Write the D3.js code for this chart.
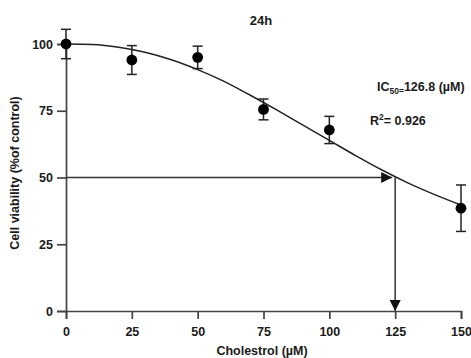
<!DOCTYPE html>
<html>
<head>
<meta charset="utf-8">
<script src="https://cdn.jsdelivr.net/npm/d3@7"></script>
<style>
  body { margin: 0; background: #fff; }
  svg { display: block; font-family: "Liberation Sans", Arial, sans-serif; font-weight: bold; }
</style>
</head>
<body>
<svg id="chart" width="471" height="358"></svg>
<script>
// measured points (mean, sd)
const doses = [0, 25, 50, 75, 100, 150];
const viability = [100, 94, 95, 75.5, 67.8, 38.5];
const sd = [5.5, 5.4, 4.2, 3.9, 5.1, 8.7];

// fitted curve
const curveX = [0, 10, 20, 30, 40, 50, 60, 70, 80, 90, 100, 110, 120, 130, 140, 150];
const curveY = [100, 99.8, 98.8, 96.9, 94.1, 90.4, 86, 80.8, 75.3, 69.6, 63.9, 58.2, 52.8, 47.9, 43.6, 39.7];

const xTicks = [0, 25, 50, 75, 100, 125, 150];
const yTicks = [0, 25, 50, 75, 100];
const ic50Dose = 125;
const halfLevel = 50;

const svg = d3.select('#chart');
const axisColor = '#444';
const textColor = '#1a1a1a';

const x = d3.scaleLinear().domain([0, 150]).range([66, 461]);
const y = d3.scaleLinear().domain([0, 100]).range([311, 44]);

// axes
const xAxis = svg.append('g')
  .attr('transform', `translate(0,${y(0)})`)
  .call(d3.axisBottom(x).tickValues(xTicks).tickSizeOuter(0).tickSize(8).tickPadding(8));
const yAxis = svg.append('g')
  .attr('transform', `translate(${x(0)},0)`)
  .call(d3.axisLeft(y).tickValues(yTicks).tickSizeOuter(0).tickSize(9).tickPadding(4));

[xAxis, yAxis].forEach(a => {
  a.select('.domain').attr('stroke', axisColor).attr('stroke-width', 1.7);
  a.selectAll('.tick line').attr('stroke', axisColor).attr('stroke-width', 1.7);
  a.selectAll('.tick text')
    .attr('fill', textColor)
    .attr('font-size', 12.5)
    .attr('font-weight', 'bold')
    .attr('font-family', '"Liberation Sans", Arial, sans-serif');
});

// arrow markers
svg.append('defs').append('marker')
  .attr('id', 'head')
  .attr('viewBox', '0 0 10 10')
  .attr('refX', 10).attr('refY', 5)
  .attr('markerWidth', 14).attr('markerHeight', 11)
  .attr('markerUnits', 'userSpaceOnUse')
  .attr('orient', 'auto')
  .append('path')
  .attr('d', 'M0,0L10,5L0,10Z')
  .attr('fill', '#111');

svg.append('line')
  .attr('x1', x(0)).attr('x2', x(ic50Dose) - 3)
  .attr('y1', y(halfLevel)).attr('y2', y(halfLevel))
  .attr('stroke', '#333').attr('stroke-width', 1.5)
  .attr('marker-end', 'url(#head)');
svg.append('line')
  .attr('x1', x(ic50Dose)).attr('x2', x(ic50Dose))
  .attr('y1', y(halfLevel)).attr('y2', y(0))
  .attr('stroke', '#333').attr('stroke-width', 1.5)
  .attr('marker-end', 'url(#head)');

// fitted curve
const line = d3.line()
  .x((d, i) => x(curveX[i]))
  .y(d => y(d))
  .curve(d3.curveMonotoneX);
svg.append('path')
  .attr('d', line(curveY))
  .attr('fill', 'none')
  .attr('stroke', '#222')
  .attr('stroke-width', 1.5);

// error bars
const bars = svg.append('g')
  .attr('stroke', '#222')
  .attr('stroke-width', 1.5);
doses.forEach((d, i) => {
  const cx = x(d);
  const top = y(viability[i] + sd[i]);
  const bot = y(viability[i] - sd[i]);
  bars.append('line').attr('x1', cx).attr('x2', cx).attr('y1', top).attr('y2', bot);
  bars.append('line').attr('x1', cx - 5).attr('x2', cx + 5).attr('y1', top).attr('y2', top);
  bars.append('line').attr('x1', cx - 5).attr('x2', cx + 5).attr('y1', bot).attr('y2', bot);
});

// points
svg.append('g')
  .selectAll('circle')
  .data(doses)
  .join('circle')
  .attr('cx', d => x(d))
  .attr('cy', (d, i) => y(viability[i]))
  .attr('r', 5.4)
  .attr('fill', '#000');

// texts
svg.append('text')
  .attr('x', 261).attr('y', 25)
  .attr('text-anchor', 'middle')
  .attr('font-size', 13)
  .attr('fill', textColor)
  .text('24h');

const ic = svg.append('text')
  .attr('x', 377).attr('y', 91)
  .attr('font-size', 12.5)
  .attr('fill', textColor);
ic.append('tspan').text('IC');
ic.append('tspan').attr('font-size', 8.5).attr('dy', 3).text('50=');
ic.append('tspan').attr('dy', -3).text('126.8 (µM)');

const r2 = svg.append('text')
  .attr('x', 370).attr('y', 125)
  .attr('font-size', 12.5)
  .attr('fill', textColor);
r2.append('tspan').text('R');
r2.append('tspan').attr('font-size', 8.5).attr('dy', -5).text('2');
r2.append('tspan').attr('dy', 5).text('= 0.926');

svg.append('text')
  .attr('x', 262).attr('y', 355)
  .attr('text-anchor', 'middle')
  .attr('font-size', 12.5)
  .attr('fill', textColor)
  .text('Cholestrol (µM)');

svg.append('text')
  .attr('transform', 'translate(19,173) rotate(-90)')
  .attr('text-anchor', 'middle')
  .attr('font-size', 12.5)
  .attr('fill', textColor)
  .text('Cell viability (%of control)');
</script>
</body>
</html>
